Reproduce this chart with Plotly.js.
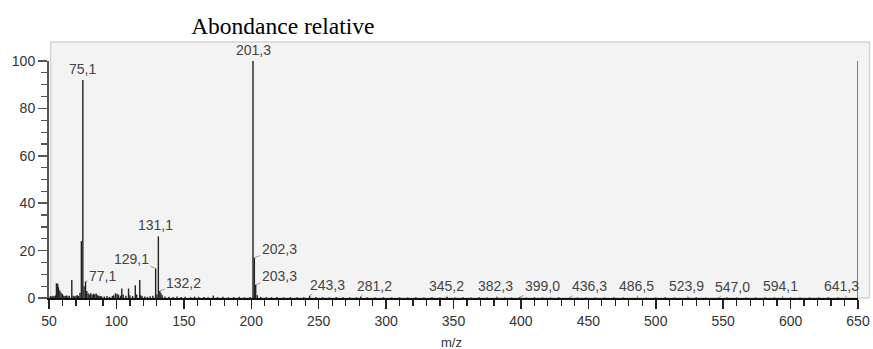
<!DOCTYPE html>
<html><head><meta charset="utf-8">
<script src="https://cdn.plot.ly/plotly-3.0.1.min.js"></script>
<style>html,body{margin:0;padding:0;background:#fff}#chart{width:873px;height:349px}</style>
</head><body><div id="chart"></div>
<script>
// Spectrum sticks (m/z, relative abundance %)
const mz = [51,52,53,54,55,55.5,56.5,57,58,59,60,61,62,63,64,65,66.9,68,69,70,71,72,73,74,75.1,76,77.1,78,79,80,81,82,83,84,85,86,87,88,89,91,93,95,97,98,99.3,100.5,101.5,103,104,105,107,109,110,112,114,115,117.3,118,119,121,123,125,127,129.1,130,131.1,132.2,133,134,136,139,142,145,148,151,155,158,161,165,168,171.9,175,179,183,187,191,195,199,201.3,202.3,203.3,204.5,207,211,215,219,224,229,234,239,243.3,248,253,258,263,268,273,278,281.2,286,292,298,304,310,316,322,328,334,340,345.2,351,357,363,369,375,382.3,388,393,399,404,410,416,422,428,436.3,442,448,455,462,469,476,486.5,493,500,507,514,523.9,530,537,547,553,560,567,574,581,588,594.1,600,607,614,621,628,635,641.3,646];
const abundance = [0.8,0.6,0.9,0.7,1.2,6.2,6.0,4.5,3.2,2.2,1.6,1.0,0.8,1.1,0.6,0.9,7.6,1.0,0.7,0.9,1.2,0.8,2.2,24.0,92.0,5.0,7.0,3.0,2.0,1.5,2.0,1.4,1.8,1.6,1.9,1.2,1.0,0.8,0.7,0.6,0.8,0.5,0.9,1.2,2.0,1.8,1.4,1.0,4.0,1.5,0.9,4.0,1.2,0.8,5.4,1.5,7.6,1.2,0.8,0.6,0.5,0.7,0.9,12.5,1.5,26.0,3.0,2.0,1.2,0.6,0.5,0.4,0.6,0.4,0.5,0.4,0.6,0.5,0.4,0.3,1.0,0.4,0.5,0.3,0.4,0.5,0.3,0.4,100.0,17.0,5.6,1.2,0.5,0.4,0.3,0.4,0.3,0.4,0.3,0.3,1.0,0.4,0.3,0.3,0.4,0.3,0.3,0.3,0.6,0.3,0.2,0.3,0.2,0.3,0.2,0.3,0.2,0.3,0.2,0.4,0.2,0.3,0.2,0.3,0.2,0.3,0.2,0.2,0.4,0.2,0.3,0.2,0.2,0.3,0.2,0.2,0.2,0.2,0.2,0.3,0.2,0.2,0.2,0.2,0.3,0.2,0.2,0.3,0.2,0.2,0.2,0.2,0.2,0.2,0.3,0.2,0.2,0.2,0.2,0.2,0.2,0.3,0.2];
// right-hand cursor line
const cursorMz = [650];
const cursorVal = [100];
// labelled peaks
const labelMz = [75.1,201.3,131.1,129.1,77.1,132.2,202.3,203.3,243.3,281.2,345.2,382.3,399.0,436.3,486.5,523.9,547.0,594.1,641.3];
const labelVal = [92,100,26,12.5,7,3,17,5.6,1,0.6,0.4,0.3,0.3,0.3,0.3,0.3,0.2,0.3,0.3];
const labelText = ["75,1","201,3","131,1","129,1","77,1","132,2","202,3","203,3","243,3","281,2","345,2","382,3","399,0","436,3","486,5","523,9","547,0","594,1","641,3"];
const xTicks = [50,100,150,200,250,300,350,400,450,500,550,600,650];
const yTicks = [0,20,40,60,80,100];

// label offsets in pixels (layout only)
const offs = [[0,null],[0,null],[-3,null],[-24,-9],[17,-5],[24,-8],[25,-9],[24,-9],[18,-11],[14,-11],[-1,-11],[-2,-11],[23,-11],[20,-11],[-1,-11],[-1,-11],[13,-11],[-2,-11],[-5,-11]];

function sticks(xs, ys){
  const X=[],Y=[];
  xs.forEach((x,i)=>{X.push(x,x,null);Y.push(0,ys[i],null);});
  return {X,Y};
}
const s = sticks(mz, abundance);
const c = sticks(cursorMz, cursorVal);

const traces = [
  {x:s.X,y:s.Y,type:'scatter',mode:'lines',line:{color:'#222',width:1.4},hoverinfo:'skip',cliponaxis:false},
  {x:c.X,y:c.Y,type:'scatter',mode:'lines',line:{color:'#666',width:1.6},hoverinfo:'skip',cliponaxis:false}
];

const font = {family:'Liberation Sans, Arial, sans-serif', size:14, color:'#444'};
const annotations = labelMz.map((m,i)=>{
  const o = offs[i];
  if(o[1]===null){
    return {x:m,y:labelVal[i],xref:'x',yref:'y',text:labelText[i],showarrow:false,yanchor:'bottom',yshift:1,xshift:o[0],font:font};
  }
  return {x:m,y:labelVal[i],xref:'x',yref:'y',text:labelText[i],showarrow:true,arrowhead:0,arrowwidth:1,arrowcolor:'#999',standoff:0,startstandoff:0,ax:o[0],ay:o[1],font:font};
});
annotations.push({xref:'paper',yref:'paper',x:0.497,y:-0.188,text:'m/z',showarrow:false,font:{family:'Liberation Sans, Arial, sans-serif',size:13,color:'#333'},yanchor:'middle'});

const tf = {family:'Liberation Sans, Arial, sans-serif',size:14,color:'#333'};
const layout = {
  width:873,height:349,
  margin:{l:48.5,r:14.5,t:61,b:50.5},
  paper_bgcolor:'#fff',plot_bgcolor:'rgba(0,0,0,0)',
  showlegend:false,
  title:{text:'Abondance relative',font:{family:'Liberation Serif, Times New Roman, serif',size:23.5,color:'#000'},xref:'paper',x:0.289,xanchor:'center',yref:'container',y:0.925,yanchor:'middle'},
  xaxis:{range:[50,650],tickvals:xTicks,ticktext:xTicks.map(String),ticks:'outside',ticklen:9,tickwidth:1.5,tickcolor:'#222',
    minor:{dtick:10,ticks:'outside',ticklen:6,tickwidth:1.2,tickcolor:'#222',showgrid:false},
    showgrid:false,zeroline:false,showline:true,linecolor:'#111',linewidth:2,
    tickfont:tf,automargin:false,fixedrange:true},
  yaxis:{range:[0,100],tickvals:yTicks,ticktext:yTicks.map(String),ticks:'outside',ticklen:9,tickwidth:1.5,tickcolor:'#555',
    minor:{dtick:5,ticks:'outside',ticklen:6,tickwidth:1.2,tickcolor:'#555',showgrid:false},
    showgrid:false,zeroline:false,showline:true,linecolor:'#555',linewidth:2,
    tickfont:tf,automargin:false,fixedrange:true},
  shapes:[{type:'rect',xref:'paper',yref:'paper',x0:0.002,x1:1.0142,y0:0,y1:1.08,fillcolor:'#f3f3f3',line:{color:'#d4d4d4',width:1.5},layer:'below'}],
  annotations:annotations
};
Plotly.newPlot('chart',traces,layout,{staticPlot:true,displayModeBar:false});
</script></body></html>
